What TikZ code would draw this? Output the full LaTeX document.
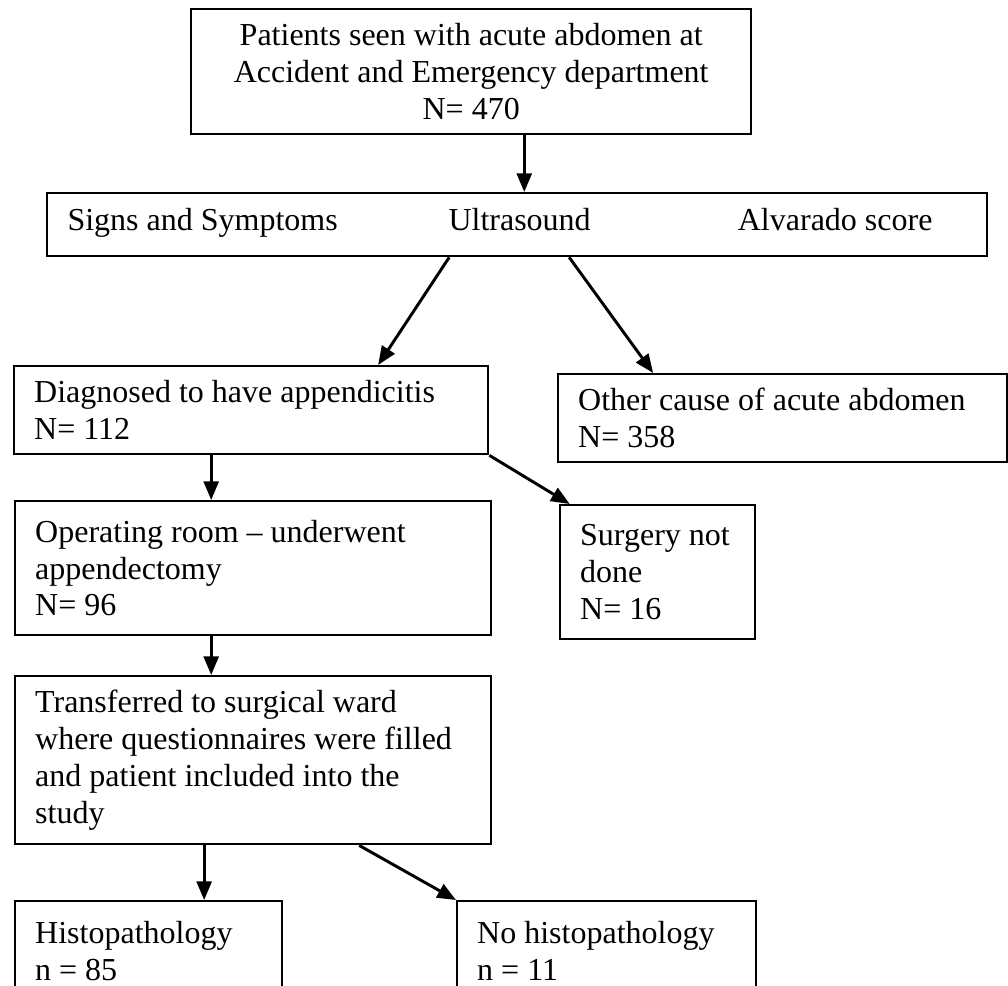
\documentclass[tikz,border=0pt]{standalone}
\usepackage{fontspec}
\setmainfont{Liberation Serif}
\usetikzlibrary{arrows.meta}
\tikzset{
  box/.style ={rectangle, draw=black, line width=0.9pt, anchor=north west, align=flush left,
               inner xsep=7.5pt, inner ysep=0pt, font=\fontsize{12}{13.8}\selectfont},
  txt/.style ={anchor=base west, inner sep=0pt, font=\fontsize{12}{13.8}\selectfont},
  flow/.style={-{Triangle[length=7pt,width=5.6pt]}, line width=1.1pt},
}
\begin{document}
\begin{tikzpicture}[x=0.375pt,y=-0.375pt]
\useasboundingbox (0,0) rectangle (1008,986);
\clip (0,0) rectangle (1008,986);
% --- admission ---
\node[box, align=flush center, minimum width=210pt, minimum height=46.9pt, text width=195pt] (pat) at (190,8)
  {Patients seen with acute abdomen at\\Accident and Emergency department\\N= 470};
% --- work-up ---
\node[box, minimum width=352.5pt, minimum height=23.6pt] (tests) at (46,192) {};
\node[txt] (signs) at (67,230) {Signs and Symptoms};
\node[txt] (us) at (448,230) {Ultrasound};
\node[txt, anchor=base east] (alv) at (933,230) {Alvarado score};
% --- diagnosis ---
\node[box, minimum width=177.75pt, minimum height=33pt, text width=162.75pt] (diag) at (13,365)
  {Diagnosed to have appendicitis\\N= 112};
\node[box, minimum width=168.4pt, minimum height=33pt, text width=153.4pt] (other) at (557,373)
  {Other cause of acute abdomen\\N= 358};
% --- surgery ---
\node[box, minimum width=178.5pt, minimum height=50.25pt, text width=163.5pt] (oproom) at (14,500)
  {Operating room -- underwent\\appendectomy\\N= 96};
\node[box, minimum width=73pt, minimum height=50.25pt, text width=58pt] (nosurg) at (559,504)
  {Surgery not\\done\\N= 16};
\node[box, minimum width=178.5pt, minimum height=63pt, text width=163.5pt] (ward) at (14,675)
  {Transferred to surgical ward\\where questionnaires were filled\\and patient included into the\\study};
% --- pathology ---
\node[box, minimum width=100.1pt, minimum height=37.5pt, text width=85.1pt] (histo) at (14,900)
  {Histopathology\\n = 85};
\node[box, minimum width=112.1pt, minimum height=37.5pt, text width=97.1pt] (nohisto) at (456,900)
  {No histopathology\\n = 11};
% arrow feet
\coordinate (c1) at ([xshift=19.9pt]pat.south);
\coordinate (c2) at ([xshift=-15pt]diag.south);
\coordinate (c3) at ([xshift=-15.75pt]oproom.south);
\coordinate (c4) at ([xshift=-18.4pt]ward.south);
% arrows
\draw[flow] (c1) -- (c1 |- tests.north);
\draw[flow] ([xshift=-25.5pt]tests.south) -- ([xshift=47.6pt]diag.north);
\draw[flow] ([xshift=19.5pt]tests.south) -- ([xshift=-48.6pt]other.north);
\draw[flow] (diag.south east) -- ([xshift=4pt]nosurg.north west);
\draw[flow] (c2) -- (c2 |- oproom.north);
\draw[flow] (c3) -- (c3 |- ward.north);
\draw[flow] (c4) -- (c4 |- histo.north);
\draw[flow] ([xshift=39.75pt]ward.south) -- (nohisto.north west);
\end{tikzpicture}
\end{document}
